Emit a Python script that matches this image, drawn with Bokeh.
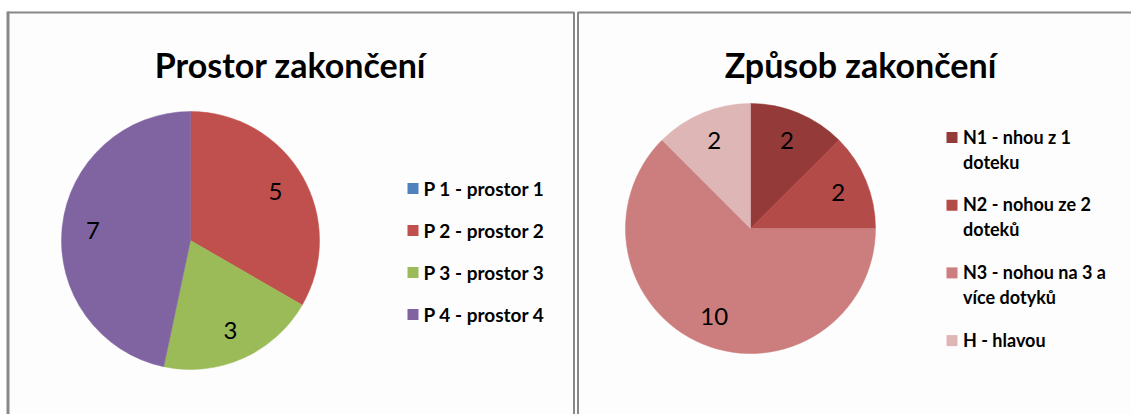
import math
from bokeh.plotting import figure
from bokeh.models import Range1d
from bokeh.core.properties import value
from bokeh.embed import file_html
from bokeh.resources import INLINE

# ---------------- data ----------------
left_title = "Prostor zakončení"
left_categories = ["P 1 - prostor 1", "P 2 - prostor 2", "P 3 - prostor 3", "P 4 - prostor 4"]
left_values = [0, 5, 3, 7]
left_colors = ["#4F81BD", "#C0504D", "#9BBB59", "#8064A2"]

right_title = "Způsob zakončení"
right_categories = ["N1 - nhou z 1\ndoteku", "N2 - nohou ze 2\ndoteků",
                    "N3 - nohou na 3 a\nvíce dotyků", "H - hlavou"]
right_values = [2, 2, 10, 2]
right_colors = ["#943A38", "#B34B49", "#CC7D7D", "#DFB6B6"]

# ---------------- layout ----------------
W, H = 1131, 414
FONT = "Lato"


def Y(py):
    return H - py


p = figure(width=W, height=H, x_range=Range1d(0, W), y_range=Range1d(0, H),
           output_backend="svg", toolbar_location=None, min_border=0,
           x_axis_location=None, y_axis_location=None, outline_line_color=None)
p.grid.visible = False
p.background_fill_color = "white"
p.border_fill_color = "white"

# panel frames
p.quad(left=[7.5, 577.5], right=[573.5, 1200], top=[Y(12), Y(12)], bottom=[Y(460), Y(460)],
       fill_color="#FDFDFD", line_color="#888888", line_width=2)
p.segment(x0=[7.5], y0=[Y(11)], x1=[7.5], y1=[Y(460)], line_color="#888888", line_width=3)


def pie(cx, cy, r, vals, cols):
    total = sum(vals)
    cum = 0
    st, en, cl, lx, ly, tx = [], [], [], [], [], []
    for v, c in zip(vals, cols):
        a0 = math.pi / 2 - 2 * math.pi * cum / total
        cum += v
        a1 = math.pi / 2 - 2 * math.pi * cum / total
        if v > 0:
            st.append(a0)
            en.append(a1)
            cl.append(c)
            mid = (a0 + a1) / 2
            lx.append(cx + 0.76 * r * math.cos(mid))
            ly.append(cy + 0.76 * r * math.sin(mid))
            tx.append(str(v))
    p.wedge(x=cx, y=cy, radius=r, start_angle=st, end_angle=en, direction="clock",
            fill_color=cl, line_color=cl, line_width=0.5)
    p.text(x=lx, y=ly, text=tx, text_font=value(FONT), text_font_size="24px",
           text_align="center", text_baseline="middle", text_color="black")


def legend(x0, y0, dy, cats, cols, multiline, size):
    xs = [x0] * len(cats)
    ys = [Y(y0 + i * dy) for i in range(len(cats))]
    p.rect(x=xs, y=ys, width=11, height=11, width_units="screen", height_units="screen",
           fill_color=cols, line_color=None)
    if multiline:
        p.text(x=[x0 + 11] * len(cats), y=[y + 12 for y in ys], text=cats, text_font=value(FONT),
               text_font_size=size, text_font_style="bold", text_align="left", text_baseline="top",
               text_line_height=1.15, text_color="black")
    else:
        p.text(x=[x0 + 10.5] * len(cats), y=ys, text=cats, text_font=value(FONT),
               text_font_size=size, text_font_style="bold", text_align="left",
               text_baseline="middle", text_color="black")


# left chart
p.text(x=[290], y=[Y(64)], text=[left_title], text_font=value(FONT), text_font_size="34px",
       text_font_style="bold", text_align="center", text_baseline="alphabetic", text_color="black")
pie(190, Y(240), 129, left_values, left_colors)
legend(412.5, 188, 42, left_categories, left_colors, False, "19px")

# right chart
p.text(x=[860], y=[Y(64)], text=[right_title], text_font=value(FONT), text_font_size="34px",
       text_font_style="bold", text_align="center", text_baseline="alphabetic", text_color="black")
pie(750, Y(228), 125, right_values, right_colors)
legend(951.5, 137, 67.7, right_categories, right_colors, True, "18px")

open("out.html", "w").write(file_html(p, INLINE))
